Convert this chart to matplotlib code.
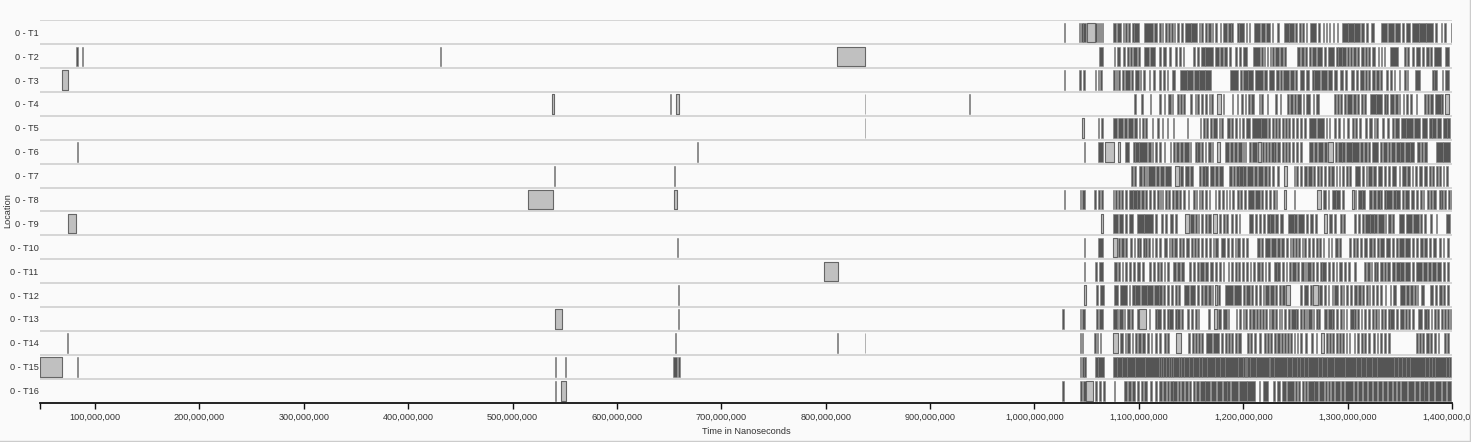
import matplotlib
matplotlib.use("Agg")
import matplotlib.pyplot as plt
from matplotlib.ticker import FuncFormatter
from matplotlib.lines import Line2D

plt.rcParams['font.family'] = ['Liberation Sans', 'DejaVu Sans']

# ---------------- data (times in millions of nanoseconds, (start, end)) ----------------
locations = ["0 - T1", "0 - T2", "0 - T3", "0 - T4", "0 - T5", "0 - T6", "0 - T7", "0 - T8",
             "0 - T9", "0 - T10", "0 - T11", "0 - T12", "0 - T13", "0 - T14", "0 - T15", "0 - T16"]

time_start = 47.3
time_end = 1400.0
tick_values = [100, 200, 300, 400, 500, 600, 700, 800, 900, 1000, 1100, 1200, 1300, 1400]

t1_dark = [(1028.0, 1029.3), (1042.4, 1044.0), (1044.7, 1046.3), (1046.6, 1049.8), (1058.1, 1059.7),
           (1060.7, 1062.0), (1062.9, 1063.9), (1064.5, 1065.8), (1074.8, 1078.0), (1079.2, 1082.8),
           (1084.4, 1085.6), (1086.3, 1088.8), (1089.5, 1092.0), (1093.3, 1094.9), (1095.6, 1100.4),
           (1104.8, 1113.8), (1114.8, 1117.6), (1118.9, 1120.8), (1122.1, 1123.4), (1124.7, 1126.9),
           (1128.2, 1129.8), (1131.1, 1132.7), (1133.6, 1134.9), (1136.2, 1138.8), (1140.4, 1142.0),
           (1144.5, 1150.0), (1150.3, 1156.0), (1157.3, 1158.6), (1159.9, 1161.8), (1163.1, 1165.0),
           (1166.3, 1168.8), (1170.1, 1171.4), (1172.7, 1174.6), (1177.8, 1178.8), (1181.0, 1184.5),
           (1185.5, 1188.0), (1188.7, 1190.6), (1193.8, 1195.7), (1196.4, 1200.8), (1202.4, 1203.4),
           (1205.6, 1206.6), (1210.4, 1216.2), (1216.8, 1221.0), (1221.4, 1225.8), (1227.1, 1228.4),
           (1232.8, 1234.1), (1239.2, 1243.5), (1243.9, 1248.2), (1249.5, 1251.4), (1253.3, 1255.2),
           (1256.5, 1257.8), (1259.7, 1261.0), (1263.6, 1269.3), (1271.9, 1273.8), (1276.4, 1277.6),
           (1279.6, 1280.5), (1282.1, 1283.4), (1286.0, 1286.6), (1289.8, 1291.1), (1294.3, 1300.0),
           (1300.4, 1306.0), (1306.4, 1312.2), (1312.8, 1315.4), (1317.3, 1319.9), (1322.4, 1325.0),
           (1332.0, 1338.0), (1338.4, 1344.2), (1345.5, 1350.6), (1351.9, 1353.8), (1355.7, 1360.2),
           (1361.5, 1368.0), (1368.4, 1375.0), (1375.4, 1382.0), (1383.9, 1385.2), (1389.0, 1390.3),
           (1392.8, 1394.1), (1399.0, 1400.0)]
t1_light = [(1050.4, 1058.1)]

t2_dark = [(81.8, 83.7), (87.4, 87.8), (430.3, 430.7),
           (1062.0, 1065.8), (1076.0, 1077.3), (1078.6, 1082.4), (1085.0, 1086.3), (1088.2, 1090.1),
           (1091.4, 1093.3), (1094.6, 1097.8), (1099.1, 1101.0), (1104.8, 1110.0), (1110.4, 1115.4),
           (1119.6, 1121.5), (1122.8, 1126.0), (1129.2, 1131.1), (1134.3, 1136.2), (1138.8, 1140.0),
           (1142.0, 1143.2), (1152.2, 1154.1), (1155.4, 1158.0), (1159.2, 1163.1), (1163.7, 1171.4),
           (1172.7, 1176.5), (1177.8, 1180.4), (1181.6, 1184.2), (1186.1, 1188.0), (1191.9, 1193.8),
           (1196.4, 1198.3), (1200.2, 1203.4), (1209.2, 1216.2), (1216.8, 1218.8), (1220.0, 1221.3),
           (1222.6, 1223.9), (1225.2, 1226.4), (1227.7, 1229.0), (1230.3, 1234.1), (1235.4, 1238.0),
           (1239.2, 1241.2), (1251.4, 1254.0), (1255.2, 1257.8), (1259.1, 1261.0), (1262.9, 1264.8),
           (1266.1, 1269.3), (1270.6, 1275.1), (1277.0, 1278.9), (1280.8, 1286.6), (1288.5, 1290.4),
           (1291.1, 1294.3), (1294.9, 1298.1), (1299.4, 1301.3), (1302.6, 1304.5), (1305.2, 1307.7),
           (1309.0, 1310.9), (1312.8, 1315.4), (1316.7, 1318.6), (1319.9, 1321.8), (1323.7, 1326.3),
           (1328.8, 1330.1), (1332.0, 1333.3), (1334.6, 1335.9), (1341.0, 1348.0), (1353.8, 1355.7),
           (1357.0, 1358.9), (1361.5, 1363.4), (1365.3, 1369.8), (1371.1, 1373.6), (1374.9, 1377.5),
           (1378.8, 1381.3), (1383.2, 1389.0), (1393.5, 1397.3)]
t2_light = [(811.1, 837.4)]

t3_dark = [(1028.0, 1029.3), (1042.4, 1044.7), (1046.6, 1048.8), (1057.8, 1059.4), (1060.7, 1062.0),
           (1062.6, 1064.5), (1074.8, 1076.7), (1078.0, 1079.2), (1080.5, 1081.8), (1083.7, 1085.6),
           (1086.9, 1091.4), (1092.7, 1094.0), (1095.9, 1099.7), (1101.0, 1102.3), (1104.2, 1106.1),
           (1109.3, 1110.6), (1113.8, 1115.7), (1118.9, 1120.8), (1122.8, 1124.7), (1126.6, 1127.9),
           (1131.7, 1134.9), (1139.4, 1145.8), (1146.4, 1152.2), (1152.8, 1157.3), (1158.0, 1163.0),
           (1163.4, 1168.8), (1187.4, 1195.1), (1197.0, 1198.9), (1199.6, 1204.5), (1204.9, 1209.8),
           (1211.1, 1219.4), (1220.0, 1223.2), (1224.5, 1229.0), (1231.6, 1234.1), (1234.8, 1236.7),
           (1238.0, 1243.7), (1245.0, 1248.2), (1249.5, 1251.4), (1254.6, 1257.8), (1259.7, 1262.9),
           (1265.5, 1267.4), (1268.0, 1274.0), (1274.4, 1280.2), (1281.5, 1285.3), (1286.6, 1289.8),
           (1293.0, 1295.6), (1297.5, 1299.4), (1303.2, 1306.4), (1307.7, 1309.6), (1312.2, 1315.4),
           (1316.7, 1318.6), (1319.9, 1321.8), (1323.7, 1326.3), (1327.6, 1330.1), (1331.4, 1332.7),
           (1336.5, 1338.4), (1341.0, 1342.9), (1344.2, 1345.5), (1349.3, 1350.6), (1354.4, 1355.7),
           (1357.0, 1358.3), (1364.7, 1369.2), (1381.3, 1382.6), (1383.2, 1385.8), (1390.3, 1391.6),
           (1393.5, 1396.7)]
t3_light = [(68.7, 73.9)]

t4_dark = [(651.0, 651.3), (837.2, 837.6), (937.4, 937.8),
           (1095.2, 1096.8), (1102.3, 1104.2), (1110.6, 1111.9), (1119.6, 1121.5), (1124.0, 1125.3),
           (1127.9, 1130.4), (1131.7, 1133.0), (1136.2, 1138.1), (1139.4, 1141.3), (1142.0, 1143.9),
           (1149.0, 1150.9), (1153.5, 1154.8), (1156.0, 1158.0), (1159.9, 1161.2), (1163.1, 1165.0),
           (1166.9, 1168.2), (1169.5, 1171.4), (1180.4, 1181.6), (1189.3, 1190.6), (1193.8, 1195.1),
           (1198.3, 1200.2), (1201.5, 1202.8), (1204.7, 1206.6), (1207.9, 1210.4), (1214.9, 1216.2),
           (1217.5, 1218.8), (1222.6, 1223.9), (1230.3, 1232.8), (1234.8, 1236.0), (1242.4, 1243.7),
           (1245.0, 1247.6), (1248.8, 1250.1), (1251.4, 1255.2), (1257.2, 1258.4), (1260.4, 1263.6),
           (1266.8, 1268.0), (1269.3, 1272.5), (1287.2, 1289.2), (1289.8, 1291.7), (1293.0, 1294.3),
           (1296.8, 1298.8), (1299.4, 1303.9), (1305.2, 1307.7), (1309.0, 1310.9), (1312.8, 1314.8),
           (1316.0, 1318.0), (1321.2, 1327.0), (1327.4, 1333.3), (1334.6, 1336.5), (1337.2, 1339.1),
           (1340.4, 1344.2), (1345.5, 1348.0), (1349.3, 1350.6), (1353.2, 1354.4), (1356.4, 1358.3),
           (1360.2, 1361.5), (1365.3, 1366.6), (1373.0, 1374.9), (1376.2, 1378.1), (1379.4, 1382.0),
           (1383.9, 1389.0), (1389.6, 1390.9)]
t4_light = [(538.1, 540.0), (656.9, 659.2), (1174.6, 1178.4), (1393.5, 1397.3)]

t5_dark = [(837.2, 837.6),
           (1060.7, 1062.0), (1063.9, 1065.8), (1074.8, 1079.5), (1079.9, 1084.4), (1085.6, 1088.8),
           (1089.5, 1094.6), (1095.2, 1097.8), (1099.7, 1101.0), (1102.9, 1104.8), (1106.1, 1108.0),
           (1112.5, 1113.8), (1117.0, 1118.9), (1122.1, 1123.4), (1126.6, 1127.9), (1132.4, 1133.6),
           (1145.8, 1147.1), (1158.6, 1159.9), (1161.8, 1163.7), (1164.4, 1166.3), (1168.2, 1170.1),
           (1171.4, 1174.6), (1176.5, 1177.8), (1179.1, 1180.4), (1184.2, 1187.4), (1188.7, 1190.6),
           (1191.9, 1193.8), (1195.7, 1197.0), (1198.9, 1200.8), (1202.8, 1206.6), (1208.5, 1216.8),
           (1217.5, 1222.6), (1223.9, 1225.8), (1227.1, 1229.0), (1230.3, 1232.8), (1233.5, 1235.4),
           (1236.7, 1238.6), (1239.9, 1241.8), (1243.1, 1245.0), (1246.9, 1248.2), (1250.1, 1252.7),
           (1254.0, 1255.9), (1257.8, 1259.7), (1262.9, 1270.0), (1270.4, 1277.6), (1278.9, 1280.2),
           (1282.1, 1283.4), (1287.2, 1289.2), (1291.1, 1293.0), (1295.6, 1296.8), (1299.4, 1301.3),
           (1304.5, 1305.8), (1307.1, 1309.0), (1310.9, 1312.8), (1316.7, 1318.6), (1320.5, 1323.1),
           (1325.0, 1326.3), (1327.6, 1329.5), (1333.3, 1334.6), (1337.8, 1339.7), (1342.3, 1344.2),
           (1345.5, 1349.3), (1351.2, 1355.7), (1356.4, 1362.8), (1364.0, 1369.8), (1371.1, 1376.2),
           (1377.5, 1380.7), (1381.3, 1384.5), (1385.8, 1389.0), (1391.6, 1394.8), (1395.4, 1398.0)]
t5_light = [(1045.6, 1047.9)]

t6_dark = [(82.6, 83.0), (676.8, 677.2),
           (1047.2, 1048.5), (1061.3, 1065.2), (1086.3, 1090.1), (1094.0, 1095.9), (1096.5, 1099.7),
           (1100.4, 1108.0), (1108.7, 1111.9), (1112.5, 1113.8), (1115.1, 1117.0), (1119.6, 1120.8),
           (1124.0, 1125.3), (1129.8, 1131.1), (1132.4, 1134.3), (1135.6, 1138.1), (1139.4, 1142.6),
           (1143.2, 1147.7), (1149.0, 1149.6), (1153.5, 1155.4), (1156.0, 1158.6), (1159.9, 1161.8),
           (1163.1, 1164.4), (1166.3, 1168.8), (1170.1, 1171.4), (1182.3, 1186.1), (1187.4, 1190.6),
           (1191.2, 1193.8), (1195.1, 1198.9), (1199.6, 1200.8), (1201.5, 1202.8), (1205.3, 1207.9),
           (1208.5, 1213.6), (1218.1, 1220.0), (1221.3, 1222.6), (1223.9, 1225.8), (1226.4, 1229.0),
           (1229.6, 1231.6), (1232.8, 1235.4), (1236.7, 1238.6), (1239.9, 1241.8), (1243.1, 1245.0),
           (1246.9, 1248.8), (1250.8, 1252.7), (1254.6, 1256.5), (1262.9, 1266.8), (1267.4, 1270.6),
           (1271.9, 1276.4), (1277.6, 1280.2), (1287.9, 1289.8), (1291.1, 1294.3), (1294.9, 1297.5),
           (1298.1, 1303.9), (1304.5, 1310.9), (1311.6, 1314.8), (1316.0, 1318.6), (1319.9, 1321.8),
           (1323.7, 1329.5), (1330.8, 1333.3), (1334.0, 1337.8), (1338.4, 1340.4), (1341.6, 1345.5),
           (1346.1, 1350.0), (1350.6, 1353.8), (1355.1, 1359.6), (1360.2, 1363.4), (1366.6, 1369.2),
           (1370.4, 1372.4), (1373.0, 1376.2), (1384.5, 1391.0), (1391.4, 1398.0)]
t6_light = [(1067.1, 1076.0), (1079.9, 1081.8), (1175.2, 1177.8), (1214.3, 1217.5), (1281.5, 1286.0)]

t7_dark = [(540.0, 541.0), (654.7, 656.0),
           (1092.7, 1094.0), (1095.2, 1097.2), (1100.4, 1102.9), (1104.2, 1106.1), (1106.8, 1108.0),
           (1108.7, 1115.7), (1116.4, 1118.9), (1120.2, 1124.0), (1124.7, 1130.4), (1139.4, 1142.6),
           (1143.9, 1147.7), (1149.0, 1152.2), (1157.3, 1159.2), (1160.5, 1163.1), (1163.7, 1166.3),
           (1168.2, 1172.0), (1173.3, 1175.9), (1177.2, 1181.0), (1186.8, 1189.3), (1190.0, 1192.5),
           (1193.2, 1195.7), (1196.4, 1199.6), (1200.2, 1202.8), (1204.0, 1209.8), (1210.4, 1213.0),
           (1214.3, 1218.8), (1220.0, 1223.2), (1223.9, 1225.8), (1227.1, 1229.0), (1232.2, 1234.1),
           (1248.2, 1249.5), (1250.8, 1252.7), (1254.0, 1256.5), (1257.8, 1261.0), (1261.6, 1266.1),
           (1266.8, 1268.7), (1270.6, 1272.5), (1273.8, 1275.7), (1277.0, 1278.9), (1280.8, 1282.8),
           (1284.0, 1287.2), (1288.5, 1289.8), (1291.7, 1293.0), (1294.3, 1296.8), (1298.1, 1300.0),
           (1301.3, 1303.2), (1307.1, 1312.2), (1313.5, 1315.4), (1317.3, 1318.6), (1319.9, 1323.1),
           (1324.4, 1326.9), (1329.5, 1333.3), (1335.2, 1337.2), (1339.1, 1341.0), (1342.9, 1346.8),
           (1349.3, 1350.6), (1352.5, 1355.7), (1357.0, 1360.2), (1361.5, 1362.8), (1364.7, 1366.6),
           (1368.5, 1371.7), (1373.0, 1376.2), (1378.1, 1380.0), (1381.3, 1383.2), (1384.5, 1386.4),
           (1387.7, 1389.0), (1390.9, 1392.8), (1394.1, 1396.0)]
t7_light = [(1134.9, 1138.8), (1238.6, 1241.8)]

t8_dark = [(1028.0, 1029.3), (1043.4, 1044.7), (1046.0, 1048.5), (1057.5, 1059.4), (1060.7, 1062.6),
           (1063.9, 1065.8), (1074.8, 1076.0), (1077.3, 1078.6), (1080.5, 1081.8), (1083.1, 1085.0),
           (1086.3, 1088.8), (1090.1, 1094.0), (1094.6, 1097.8), (1098.4, 1101.0), (1101.6, 1104.8),
           (1105.5, 1107.4), (1109.3, 1111.9), (1113.8, 1115.7), (1117.6, 1118.9), (1120.2, 1121.5),
           (1122.1, 1123.4), (1125.3, 1126.6), (1127.9, 1129.8), (1131.7, 1133.6), (1134.3, 1137.5),
           (1138.8, 1140.7), (1142.0, 1144.5), (1147.1, 1148.4), (1151.6, 1153.5), (1154.8, 1156.0),
           (1157.3, 1158.6), (1159.9, 1161.8), (1163.1, 1165.0), (1166.9, 1168.2), (1172.7, 1174.0),
           (1175.9, 1177.8), (1179.7, 1181.6), (1183.6, 1184.8), (1186.1, 1187.4), (1189.3, 1191.2),
           (1194.4, 1196.4), (1197.0, 1198.9), (1200.8, 1202.8), (1204.7, 1210.5), (1210.9, 1216.2),
           (1217.5, 1219.4), (1220.7, 1222.6), (1224.5, 1226.4), (1228.4, 1230.3), (1231.6, 1232.8),
           (1248.2, 1249.5), (1276.4, 1278.9), (1280.8, 1282.1), (1284.7, 1288.5), (1289.2, 1293.0),
           (1294.3, 1296.8), (1307.1, 1308.4), (1309.6, 1313.5), (1314.1, 1316.7), (1320.5, 1323.7),
           (1324.4, 1326.9), (1328.2, 1330.8), (1331.4, 1333.3), (1334.6, 1336.5), (1337.2, 1342.9),
           (1343.6, 1346.1), (1346.8, 1350.6), (1351.9, 1353.8), (1355.1, 1358.9), (1360.8, 1364.0),
           (1365.3, 1367.2), (1369.8, 1371.7), (1372.4, 1373.6), (1376.2, 1378.1), (1379.4, 1380.7),
           (1382.0, 1384.5), (1387.1, 1389.0), (1389.6, 1390.9), (1392.2, 1394.1), (1396.0, 1398.0),
           (1398.6, 1399.9)]
t8_light = [(515.1, 538.5), (654.7, 657.3), (1238.6, 1240.5), (1270.6, 1274.4), (1303.9, 1306.4)]

t9_dark = [(1075.4, 1080.5), (1081.2, 1085.0), (1086.9, 1088.8), (1090.8, 1094.6), (1097.8, 1105.0),
           (1105.4, 1113.2), (1115.7, 1117.6), (1120.8, 1122.8), (1124.7, 1126.6), (1129.8, 1132.4),
           (1134.3, 1136.2), (1149.0, 1152.8), (1154.1, 1155.4), (1156.7, 1158.0), (1159.2, 1161.8),
           (1163.1, 1165.0), (1166.3, 1168.8), (1176.5, 1179.1), (1180.4, 1182.3), (1183.6, 1185.5),
           (1188.0, 1190.6), (1191.9, 1194.4), (1195.7, 1197.0), (1205.3, 1209.8), (1211.1, 1213.6),
           (1214.9, 1216.8), (1218.8, 1220.7), (1222.6, 1225.2), (1225.8, 1229.0), (1230.9, 1233.5),
           (1235.4, 1238.0), (1243.1, 1248.2), (1248.8, 1251.4), (1252.7, 1257.8), (1259.7, 1261.6),
           (1263.6, 1266.8), (1268.7, 1270.6), (1282.1, 1284.7), (1286.6, 1289.2), (1292.4, 1294.3),
           (1295.6, 1297.5), (1306.4, 1308.4), (1310.3, 1312.2), (1314.1, 1315.4), (1316.7, 1321.0),
           (1321.4, 1325.0), (1325.6, 1328.2), (1329.5, 1334.6), (1335.9, 1337.2), (1339.1, 1341.6),
           (1342.3, 1344.2), (1349.3, 1354.4), (1355.7, 1362.0), (1362.4, 1368.5), (1369.8, 1371.7),
           (1373.0, 1374.9), (1378.8, 1380.7), (1384.5, 1385.8), (1394.1, 1398.0)]
t9_light = [(74.1, 81.8), (1063.9, 1065.8), (1143.9, 1147.7), (1171.4, 1174.6), (1277.0, 1280.2)]

t10_dark = [(657.7, 658.1),
            (1047.2, 1048.5), (1061.3, 1065.8), (1079.9, 1081.8), (1083.1, 1085.6), (1086.9, 1088.8),
            (1091.4, 1093.3), (1095.2, 1096.5), (1097.8, 1099.7), (1100.4, 1102.3), (1103.6, 1105.5),
            (1106.1, 1108.0), (1108.7, 1110.6), (1112.5, 1113.8), (1115.1, 1117.0), (1118.9, 1120.8),
            (1124.0, 1127.2), (1128.5, 1129.8), (1131.1, 1132.4), (1133.6, 1136.2), (1138.1, 1140.0),
            (1141.3, 1143.2), (1145.2, 1148.4), (1149.6, 1151.6), (1152.8, 1154.8), (1156.0, 1158.0),
            (1159.9, 1161.8), (1163.1, 1165.0), (1166.9, 1168.8), (1170.8, 1172.0), (1173.3, 1175.9),
            (1179.1, 1182.9), (1184.2, 1186.1), (1188.7, 1190.6), (1191.9, 1193.2), (1194.4, 1197.0),
            (1198.9, 1200.8), (1202.8, 1204.7), (1213.6, 1216.2), (1217.5, 1219.4), (1221.3, 1225.8),
            (1226.4, 1231.6), (1232.8, 1234.8), (1236.0, 1239.2), (1241.2, 1243.1), (1244.4, 1245.6),
            (1246.9, 1248.2), (1249.5, 1251.4), (1252.7, 1254.0), (1255.9, 1257.2), (1258.4, 1260.4),
            (1262.3, 1264.2), (1266.1, 1268.0), (1269.3, 1271.2), (1272.5, 1274.4), (1276.4, 1277.6),
            (1280.8, 1282.1), (1284.0, 1285.3), (1287.9, 1290.4), (1291.7, 1293.6), (1301.3, 1303.2),
            (1305.2, 1307.1), (1308.4, 1310.3), (1312.2, 1314.1), (1315.4, 1318.6), (1320.5, 1323.1),
            (1324.4, 1326.3), (1328.2, 1330.1), (1331.4, 1335.2), (1336.5, 1341.0), (1342.3, 1344.8),
            (1346.1, 1348.0), (1349.3, 1353.8), (1355.1, 1360.2), (1361.5, 1364.0), (1365.3, 1367.9),
            (1369.8, 1372.4), (1373.6, 1376.2), (1378.1, 1380.0), (1382.0, 1384.5), (1387.1, 1389.0),
            (1391.6, 1392.8), (1395.4, 1397.3)]
t10_light = [(1075.4, 1078.6)]

t11_dark = [(1047.2, 1048.5), (1058.1, 1060.0), (1062.0, 1065.8), (1076.0, 1079.2), (1080.5, 1082.4),
            (1083.7, 1085.0), (1086.9, 1088.8), (1090.8, 1092.7), (1094.6, 1096.5), (1097.8, 1101.0),
            (1102.9, 1104.8), (1110.0, 1111.9), (1113.2, 1115.1), (1117.0, 1118.9), (1120.2, 1122.1),
            (1124.0, 1125.3), (1127.2, 1128.5), (1133.0, 1135.6), (1136.2, 1139.4), (1140.7, 1143.2),
            (1147.7, 1150.3), (1151.6, 1153.5), (1155.4, 1157.3), (1158.6, 1162.4), (1163.7, 1166.3),
            (1168.2, 1171.4), (1173.3, 1175.2), (1177.2, 1178.4), (1180.4, 1181.6), (1185.5, 1186.8),
            (1188.7, 1190.6), (1191.9, 1193.8), (1195.1, 1197.0), (1198.9, 1200.8), (1202.8, 1204.7),
            (1206.6, 1207.9), (1209.8, 1211.7), (1213.6, 1216.2), (1216.8, 1218.8), (1220.7, 1222.0),
            (1223.9, 1225.8), (1229.0, 1232.2), (1232.8, 1235.4), (1236.7, 1238.6), (1240.5, 1241.8),
            (1243.7, 1245.6), (1246.9, 1250.8), (1251.4, 1253.3), (1255.2, 1257.8), (1259.1, 1260.4),
            (1261.0, 1264.8), (1265.5, 1268.0), (1269.3, 1271.2), (1273.2, 1275.1), (1275.7, 1279.6),
            (1281.5, 1283.4), (1284.7, 1286.6), (1288.5, 1289.8), (1291.7, 1294.9), (1296.8, 1298.8),
            (1300.7, 1302.0), (1305.8, 1308.4), (1316.0, 1318.0), (1318.6, 1321.2), (1322.4, 1323.7),
            (1325.0, 1326.9), (1327.6, 1329.5), (1330.8, 1334.0), (1334.6, 1336.5), (1337.8, 1341.0),
            (1342.9, 1345.5), (1346.1, 1350.0), (1350.4, 1353.8), (1355.1, 1360.2), (1361.5, 1363.4),
            (1365.3, 1371.1), (1372.4, 1376.2), (1376.8, 1380.0), (1381.3, 1384.5), (1385.8, 1389.0),
            (1391.6, 1393.5), (1395.4, 1397.3)]
t11_light = [(798.7, 811.5)]

t12_dark = [(658.6, 659.0),
            (1058.8, 1061.3), (1062.6, 1066.4), (1076.0, 1080.5), (1081.8, 1088.8), (1090.1, 1092.0),
            (1093.3, 1095.9), (1096.5, 1101.0), (1101.6, 1107.4), (1108.0, 1113.8), (1114.4, 1118.9),
            (1119.6, 1122.1), (1123.4, 1125.3), (1126.6, 1129.2), (1130.4, 1133.0), (1134.9, 1136.2),
            (1137.5, 1139.4), (1143.2, 1148.5), (1148.9, 1154.1), (1155.4, 1158.0), (1159.2, 1161.8),
            (1162.4, 1165.0), (1166.3, 1168.8), (1170.1, 1171.4), (1175.9, 1177.8), (1182.9, 1190.5),
            (1190.9, 1198.3), (1199.6, 1202.1), (1202.8, 1206.6), (1207.9, 1209.8), (1211.7, 1213.6),
            (1214.9, 1217.5), (1218.8, 1220.0), (1221.3, 1224.5), (1225.8, 1229.0), (1230.3, 1232.8),
            (1234.1, 1236.0), (1237.3, 1239.9), (1254.0, 1256.5), (1258.4, 1261.6), (1263.6, 1265.5),
            (1272.5, 1275.7), (1277.0, 1279.6), (1280.8, 1282.1), (1284.7, 1286.0), (1287.2, 1290.4),
            (1293.0, 1294.3), (1295.6, 1296.8), (1298.1, 1300.7), (1302.0, 1303.9), (1305.8, 1309.0),
            (1309.6, 1312.8), (1313.5, 1316.0), (1317.3, 1319.2), (1320.5, 1321.8), (1323.7, 1325.6),
            (1327.6, 1329.5), (1330.8, 1332.7), (1335.9, 1337.2), (1340.4, 1341.6), (1343.6, 1346.8),
            (1350.6, 1355.1), (1356.4, 1358.9), (1360.2, 1362.8), (1364.0, 1365.3), (1366.6, 1367.9),
            (1370.4, 1373.0), (1379.4, 1382.0), (1383.9, 1385.8), (1387.7, 1390.3), (1391.6, 1393.5),
            (1394.8, 1397.3)]
t12_light = [(1047.2, 1049.2), (1172.7, 1175.2), (1241.2, 1245.0), (1266.8, 1271.2)]

t13_dark = [(658.6, 659.0),
            (1026.8, 1028.0), (1043.4, 1044.7), (1046.0, 1048.5), (1058.8, 1060.7), (1062.0, 1065.8),
            (1074.8, 1078.6), (1079.2, 1080.5), (1081.2, 1084.4), (1085.6, 1086.9), (1088.8, 1091.4),
            (1092.7, 1094.6), (1098.4, 1100.4), (1109.3, 1110.6), (1115.7, 1117.0), (1117.6, 1121.5),
            (1122.8, 1125.3), (1126.6, 1128.5), (1129.2, 1133.0), (1134.3, 1136.2), (1136.8, 1139.4),
            (1140.0, 1142.0), (1146.4, 1148.4), (1149.6, 1152.2), (1153.5, 1155.4), (1156.7, 1158.0),
            (1166.3, 1168.2), (1175.9, 1179.1), (1180.4, 1184.2), (1185.5, 1186.8), (1193.2, 1194.4),
            (1196.4, 1197.6), (1199.6, 1200.8), (1202.1, 1204.0), (1205.3, 1207.2), (1208.5, 1211.7),
            (1212.4, 1214.3), (1214.9, 1216.8), (1218.1, 1220.0), (1221.3, 1223.2), (1224.5, 1225.8),
            (1226.4, 1229.0), (1230.9, 1232.2), (1234.1, 1235.4), (1236.0, 1237.3), (1238.6, 1240.5),
            (1243.1, 1245.0), (1245.6, 1250.1), (1250.8, 1252.7), (1254.0, 1255.9), (1257.2, 1259.1),
            (1259.7, 1261.0), (1262.3, 1265.5), (1266.8, 1268.0), (1269.3, 1271.2), (1271.9, 1273.8),
            (1277.0, 1280.2), (1281.5, 1284.7), (1285.3, 1287.2), (1288.5, 1290.4), (1292.4, 1294.3),
            (1295.6, 1296.8), (1298.1, 1299.4), (1302.6, 1305.8), (1306.4, 1308.4), (1309.0, 1310.9),
            (1312.8, 1314.1), (1316.0, 1318.0), (1319.9, 1321.8), (1323.1, 1325.0), (1326.3, 1328.2),
            (1328.8, 1330.1), (1332.0, 1334.0), (1335.2, 1337.2), (1338.4, 1340.4), (1341.0, 1344.8),
            (1346.1, 1348.7), (1350.0, 1353.8), (1355.1, 1357.0), (1357.6, 1359.6), (1361.5, 1363.4),
            (1367.2, 1371.7), (1373.0, 1375.6), (1376.2, 1378.1), (1380.0, 1381.3), (1382.6, 1384.5),
            (1385.8, 1387.7), (1389.0, 1390.9), (1392.2, 1394.1), (1395.4, 1397.3), (1398.0, 1399.2)]
t13_light = [(541.0, 547.1), (1100.4, 1106.8), (1172.0, 1175.2)]

t14_dark = [(73.0, 73.4), (655.7, 656.1), (811.3, 811.7), (837.2, 837.6),
            (1043.4, 1044.7), (1046.0, 1046.6), (1057.5, 1059.4), (1060.0, 1061.3), (1062.6, 1063.9),
            (1081.8, 1084.4), (1086.3, 1087.6), (1088.8, 1091.4), (1093.3, 1094.6), (1095.9, 1097.8),
            (1099.1, 1101.6), (1102.9, 1106.1), (1107.4, 1109.3), (1111.2, 1112.5), (1115.7, 1117.0),
            (1119.6, 1120.8), (1124.0, 1126.0), (1127.2, 1129.2), (1147.1, 1149.0), (1150.9, 1152.8),
            (1154.1, 1155.4), (1156.7, 1158.6), (1159.9, 1161.8), (1164.4, 1170.5), (1170.9, 1177.2),
            (1178.4, 1180.4), (1182.3, 1184.2), (1185.5, 1187.4), (1188.7, 1190.6), (1191.9, 1193.8),
            (1195.1, 1197.6), (1203.4, 1205.3), (1206.6, 1208.5), (1210.4, 1212.4), (1214.9, 1216.8),
            (1220.0, 1222.0), (1222.6, 1224.5), (1225.8, 1227.1), (1229.0, 1231.6), (1232.8, 1234.8),
            (1236.0, 1238.0), (1239.2, 1240.5), (1241.8, 1243.7), (1245.0, 1246.3), (1248.2, 1249.5),
            (1251.4, 1252.7), (1254.6, 1256.5), (1259.1, 1261.0), (1264.8, 1266.8), (1269.3, 1270.6),
            (1278.9, 1280.8), (1282.1, 1284.0), (1284.7, 1287.2), (1288.5, 1290.4), (1291.7, 1293.6),
            (1294.9, 1296.8), (1298.1, 1299.4), (1301.3, 1302.6), (1305.8, 1307.1), (1309.0, 1310.9),
            (1312.8, 1314.8), (1316.0, 1317.3), (1319.9, 1321.8), (1324.4, 1326.3), (1328.2, 1329.5),
            (1331.4, 1333.3), (1335.2, 1336.5), (1339.1, 1341.0), (1365.3, 1367.2), (1368.5, 1370.4),
            (1371.7, 1373.0), (1374.9, 1377.5), (1378.8, 1381.3), (1382.6, 1384.5), (1386.4, 1387.7),
            (1392.2, 1394.1), (1395.4, 1397.3)]
t14_light = [(1075.4, 1080.5), (1135.6, 1140.7), (1274.4, 1277.6)]

t15_dark = [(82.6, 83.0), (540.8, 541.2), (550.4, 550.8), (654.0, 657.6), (658.8, 660.4),
            (1043.4, 1044.7), (1046.0, 1047.2), (1047.9, 1049.2), (1058.1, 1061.3), (1061.3, 1066.4),
            (1074.8, 1079.2), (1079.2, 1083.7), (1083.7, 1088.8), (1088.8, 1096.5), (1096.5, 1106.1),
            (1106.1, 1118.9), (1118.9, 1120.8), (1120.8, 1123.4), (1123.4, 1126.0), (1126.0, 1128.5),
            (1128.5, 1130.4), (1130.4, 1133.0), (1133.0, 1138.1), (1138.1, 1140.7), (1140.7, 1143.2),
            (1143.2, 1147.7), (1147.7, 1152.2), (1152.2, 1158.0), (1158.0, 1160.5), (1160.5, 1165.0),
            (1165.0, 1172.7), (1172.7, 1177.8), (1177.8, 1182.9), (1182.9, 1195.1), (1195.1, 1200.2),
            (1200.2, 1201.5), (1201.5, 1202.8), (1202.8, 1204.0), (1204.0, 1206.6), (1206.6, 1212.4),
            (1212.4, 1224.5), (1224.5, 1225.8), (1225.8, 1229.0), (1229.0, 1242.4), (1242.4, 1246.3),
            (1246.3, 1251.4), (1251.4, 1254.6), (1254.6, 1257.8), (1257.8, 1261.6), (1261.6, 1271.9),
            (1271.9, 1275.7), (1275.7, 1280.2), (1280.2, 1287.2), (1287.2, 1297.5), (1297.5, 1308.4),
            (1308.4, 1312.8), (1312.8, 1317.3), (1317.3, 1323.7), (1323.7, 1328.2), (1328.2, 1344.8),
            (1344.8, 1348.0), (1348.0, 1351.9), (1351.9, 1355.7), (1355.7, 1360.2), (1360.2, 1374.3),
            (1374.3, 1377.5), (1377.5, 1381.3), (1381.3, 1383.9), (1383.9, 1394.1), (1394.1, 1397.3),
            (1397.3, 1399.2)]
t15_light = [(47.3, 68.4)]

t16_dark = [(540.8, 541.2),
            (1026.8, 1028.7), (1043.4, 1045.3), (1046.6, 1049.2), (1058.1, 1060.0), (1062.0, 1063.9),
            (1065.2, 1067.1), (1076.0, 1077.3), (1085.6, 1088.8), (1089.5, 1092.7), (1093.3, 1096.5),
            (1097.8, 1099.7), (1101.6, 1103.6), (1104.8, 1107.4), (1110.6, 1112.5), (1115.1, 1117.0),
            (1118.9, 1122.1), (1123.4, 1126.0), (1127.2, 1128.5), (1129.8, 1132.4), (1133.0, 1136.2),
            (1137.5, 1139.4), (1140.7, 1143.2), (1144.5, 1147.1), (1148.4, 1150.3), (1151.6, 1153.5),
            (1154.8, 1157.3), (1158.6, 1163.1), (1163.7, 1168.2), (1168.8, 1174.0), (1174.4, 1179.7),
            (1180.4, 1184.2), (1184.8, 1187.4), (1188.0, 1195.1), (1195.7, 1203.4), (1204.0, 1211.7),
            (1214.9, 1216.2), (1219.4, 1223.9), (1228.4, 1230.3), (1232.8, 1235.4), (1237.3, 1240.5),
            (1241.8, 1248.2), (1249.5, 1251.4), (1252.0, 1254.6), (1255.9, 1257.8), (1259.1, 1261.0),
            (1262.3, 1267.4), (1268.0, 1271.9), (1272.5, 1277.6), (1278.3, 1280.2), (1280.8, 1283.4),
            (1284.0, 1287.2), (1287.9, 1292.4), (1293.6, 1296.8), (1297.5, 1305.2), (1305.8, 1309.0),
            (1310.3, 1314.1), (1314.8, 1318.6), (1319.2, 1323.7), (1324.4, 1328.2), (1329.5, 1332.7),
            (1334.0, 1337.8), (1339.1, 1342.3), (1343.6, 1346.1), (1347.4, 1350.6), (1351.2, 1357.0),
            (1358.3, 1363.4), (1364.7, 1368.5), (1369.8, 1373.0), (1373.6, 1376.8), (1378.1, 1382.6),
            (1383.9, 1389.0), (1390.3, 1394.1), (1395.4, 1398.6)]
t16_light = [(546.7, 550.9), (1049.2, 1056.2)]

dark_rows = [t1_dark, t2_dark, t3_dark, t4_dark, t5_dark, t6_dark, t7_dark, t8_dark,
             t9_dark, t10_dark, t11_dark, t12_dark, t13_dark, t14_dark, t15_dark, t16_dark]
light_rows = [t1_light, t2_light, t3_light, t4_light, t5_light, t6_light, t7_light, t8_light,
              t9_light, t10_light, t11_light, t12_light, t13_light, t14_light, t15_light, t16_light]

# ---------------- drawing ----------------
W, H = 1471, 442
bg = '#fafafa'
fig = plt.figure(figsize=(W / 100, H / 100), dpi=100, facecolor=bg)
top_px, bottom_px, left_px, right_px = 20.3, 402.5, 40, 1452
ax = fig.add_axes([left_px / W, 1 - bottom_px / H, (right_px - left_px) / W, (bottom_px - top_px) / H])
ax.set_facecolor(bg)

n = len(locations)
ax.set_xlim(time_start, time_end)
ax.set_ylim(n, 0)

# row separators
for i in range(n):
    ax.axhline(i, color='#d6d6d6', lw=1.4, zorder=1)

bar_y0, bar_h = 0.10, 0.82
for i in range(n):
    d = [(s, max(e - s, 0.7)) for s, e in dark_rows[i]]
    l = [(s, max(e - s, 0.7)) for s, e in light_rows[i]]
    if d:
        ax.broken_barh(d, (i + bar_y0, bar_h), facecolors='#555555', edgecolors='#7c7c7c',
                       linewidth=0.4, zorder=3)
    if l:
        ax.broken_barh(l, (i + bar_y0, bar_h), facecolors='#c0c0c0', edgecolors='#666666',
                       linewidth=0.8, zorder=3)

for side in ['top', 'right', 'left']:
    ax.spines[side].set_visible(False)
ax.spines['bottom'].set_color('#111111')
ax.spines['bottom'].set_linewidth(1.3)
ax.spines['bottom'].set_zorder(5)

ax.set_xticks(tick_values)
ax.xaxis.set_major_formatter(FuncFormatter(lambda v, p: f"{v * 1e6:,.0f}"))
ax.set_xticks([time_start], minor=True)
ax.tick_params(axis='x', which='both', length=4.3, width=1.0, color='#111111',
               labelsize=6.6, labelcolor='#333333', pad=3)

ax.set_yticks([i + 0.5 for i in range(n)])
ax.set_yticklabels(locations)
ax.tick_params(axis='y', length=0, labelsize=6.6, labelcolor='#333333', pad=1)

fig.text(8 / W, 1 - 211 / H, 'Location', rotation=90, ha='center', va='center',
         fontsize=6.6, color='#333333')
fig.text(746 / W, 1 - 432 / H, 'Time in Nanoseconds', ha='center', va='center',
         fontsize=6.6, color='#333333')
# frame edges at the bottom and right, as in the reference
fig.add_artist(Line2D([0, 1469.5 / W], [1 - 440.5 / H] * 2, color='#cccccc', lw=1.0))
fig.add_artist(Line2D([1469.5 / W] * 2, [1 - 440.5 / H, 1], color='#cccccc', lw=1.0))

fig.savefig('out.png', dpi=100, facecolor=bg)
